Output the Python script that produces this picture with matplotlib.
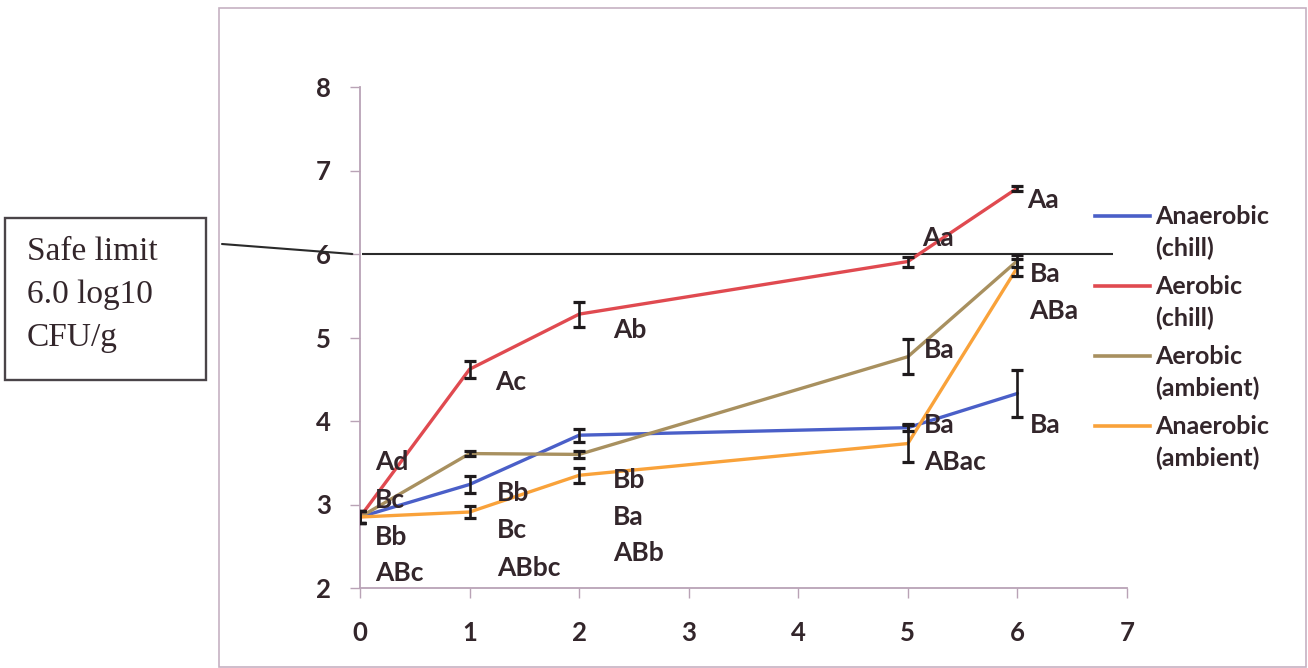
import matplotlib
matplotlib.use("Agg")
import matplotlib.pyplot as plt
from matplotlib.lines import Line2D
from matplotlib.patches import Rectangle, ConnectionPatch

# Storage time (days) and microbial counts (log10 CFU/g)
days = [0, 1, 2, 5, 6]

anaerobic_chill = [2.85, 3.24, 3.83, 3.92, 4.33]
aerobic_chill = [2.85, 4.62, 5.28, 5.91, 6.79]
aerobic_ambient = [2.85, 3.61, 3.60, 4.77, 5.92]
anaerobic_ambient = [2.85, 2.91, 3.35, 3.73, 5.84]

anaerobic_chill_err = [0.07, 0.10, 0.08, 0.04, 0.28]
aerobic_chill_err = [0.07, 0.10, 0.15, 0.06, 0.03]
aerobic_ambient_err = [0.07, 0.03, 0.04, 0.21, 0.07]
anaerobic_ambient_err = [0.07, 0.07, 0.09, 0.22, 0.10]

series_names = ["Anaerobic\n(chill)", "Aerobic\n(chill)",
                "Aerobic\n(ambient)", "Anaerobic\n(ambient)"]

safe_limit = 6.0

# Significance letters at each storage day
day0_letters = ["Ad", "Bc", "Bb", "ABc"]
day1_letters = ["Ac", "Bb", "Bc", "ABbc"]
day2_letters = ["Ab", "Bb", "Ba", "ABb"]
day5_letters = ["Aa", "Ba", "Ba", "ABac"]
day6_letters = ["Aa", "Ba", "ABa", "Ba"]

x_ticks = [0, 1, 2, 3, 4, 5, 6, 7]
y_ticks = [2, 3, 4, 5, 6, 7, 8]

# ---- styling ----
colors = ["#4a5fc8", "#e04a50", "#a8905f", "#f9a23a"]
txt_color = "#33262b"
axis_color = "#b9a3b6"
font = "Lato"
weight = "bold"

W, H = 1308, 668
fig = plt.figure(figsize=(W / 100, H / 100), dpi=100)
ax = fig.add_axes([360 / W, 80 / H, (1127 - 360) / W, (588 - 87) / H])

series = [anaerobic_chill, aerobic_chill, aerobic_ambient, anaerobic_ambient]
errors = [anaerobic_chill_err, aerobic_chill_err, aerobic_ambient_err,
          anaerobic_ambient_err]

for vals, err, c in zip(series, errors, colors):
    ax.plot(days, vals, color=c, lw=2.4, zorder=3, solid_capstyle="round")
for vals, err in zip(series, errors):
    ax.errorbar(days, vals, yerr=err, fmt="none", ecolor="#1e1a1c",
                elinewidth=1.9, capsize=4.5, capthick=2.3, zorder=4)

# safe limit reference line
ax.hlines(safe_limit, 0.02, 6.87, color="#2a2a2a", lw=1.5, zorder=2)

ax.set_xlim(0, 7)
ax.set_ylim(2, 8)
ax.set_xticks(x_ticks)
ax.set_yticks(y_ticks)
for side in ("top", "right"):
    ax.spines[side].set_visible(False)
for side in ("left", "bottom"):
    ax.spines[side].set_color(axis_color)
    ax.spines[side].set_linewidth(1.3)
ax.tick_params(axis="both", colors=axis_color, length=7, width=1.0,
               labelcolor=txt_color, labelsize=18.5)
ax.tick_params(axis="y", pad=14)
ax.tick_params(axis="x", pad=17)
for lab in ax.get_xticklabels() + ax.get_yticklabels():
    lab.set_fontfamily(font)
    lab.set_fontweight(weight)

# significance letters
letter_sets = [day0_letters, day1_letters, day2_letters, day5_letters,
               day6_letters]
letter_pos = [
    [(0.14, 3.51), (0.14, 3.05), (0.14, 2.61), (0.14, 2.18)],
    [(1.23, 4.47), (1.25, 3.14), (1.25, 2.69), (1.25, 2.24)],
    [(2.31, 5.09), (2.31, 3.29), (2.31, 2.85), (2.31, 2.42)],
    [(5.13, 6.19), (5.15, 4.85), (5.15, 3.95), (5.15, 3.51)],
    [(6.09, 6.65), (6.11, 5.76), (6.11, 5.32), (6.11, 3.95)],
]
for letters, pos in zip(letter_sets, letter_pos):
    for t, (x, y) in zip(letters, pos):
        ax.text(x, y, t, ha="left", va="center", fontsize=19,
                fontfamily=font, fontweight=weight, color=txt_color, zorder=5)

# legend
leg_rows = [216, 286, 356, 426]
for name, c, yr in zip(series_names, colors, leg_rows):
    fy = 1 - yr / H
    fig.add_artist(Line2D([1095 / W, 1150 / W], [fy, fy], color=c, lw=2.6))
    fig.text(1155 / W, 1 - (yr - 11) / H, name, ha="left", va="top",
             fontsize=18, fontfamily=font, fontweight=weight,
             color=txt_color, linespacing=1.45, transform=fig.transFigure)

# chart frame
fig.add_artist(Rectangle((219 / W, 1 / H), (1306 - 219) / W, (660 - 1) / H,
                         transform=fig.transFigure, fill=False,
                         edgecolor="#c6b2c2", lw=1.2))

# safe limit note box and its connector
fig.add_artist(Rectangle((5 / W, 1 - 380 / H), (206 - 5) / W, (380 - 218) / H,
                         transform=fig.transFigure, fill=False,
                         edgecolor="#4a4448", lw=1.7))
fig.text(27 / W, 1 - 237 / H, "Safe limit\n6.0 log10\nCFU/g", ha="left",
         va="top", fontsize=24, fontfamily="Liberation Serif",
         color="#33262b", linespacing=1.53)
conn = ConnectionPatch(xyA=(222 / W, 1 - 244 / H), coordsA=fig.transFigure,
                       xyB=(-0.07, safe_limit), coordsB=ax.transData,
                       color="#2a2a2a", lw=1.5)
fig.add_artist(conn)

fig.savefig("out.png", dpi=100)
